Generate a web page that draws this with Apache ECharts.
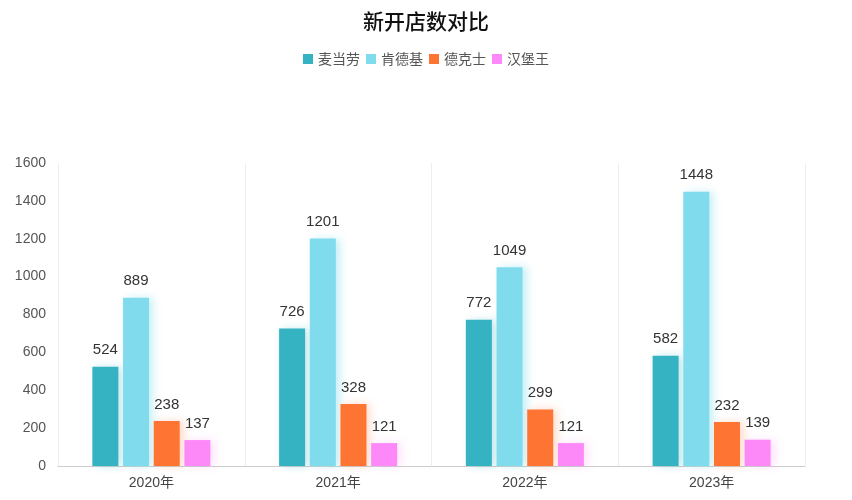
<!DOCTYPE html>
<html>
<head>
<meta charset="utf-8">
<script src="https://cdn.jsdelivr.net/npm/echarts@6/dist/echarts.min.js"></script>
<style>
  html, body { margin: 0; padding: 0; background: #fff; }
  #main { width: 852px; height: 500px; }
</style>
</head>
<body>
<div id="main"></div>
<script>
// chart data
var years = ['2020年', '2021年', '2022年', '2023年'];
var brands = ['麦当劳', '肯德基', '德克士', '汉堡王'];
var mcdonalds = [524, 726, 772, 582];
var kfc = [889, 1201, 1049, 1448];
var dicos = [238, 328, 299, 232];
var burgerKing = [137, 121, 121, 139];
var yTicks = [0, 200, 400, 600, 800, 1000, 1200, 1400, 1600];

var colors = ['#36b3c3', '#80dcec', '#fe7433', '#fd89f8'];
var shadows = ['rgba(54,179,195,0.3)', 'rgba(128,220,236,0.45)', 'rgba(254,116,51,0.25)', 'rgba(253,137,248,0.25)'];
var seriesData = [mcdonalds, kfc, dicos, burgerKing];
var font = "'Liberation Sans', 'Noto Sans CJK SC', sans-serif";

var chart = echarts.init(document.getElementById('main'));

var option = {
    color: colors,
    textStyle: { fontFamily: font },
    title: {
        text: '新开店数对比',
        left: 'center',
        top: 6,
        textStyle: { fontSize: 21, fontWeight: 500, color: '#111', fontFamily: "'Noto Sans CJK SC', sans-serif" }
    },
    legend: {
        data: brands,
        top: 47,
        itemWidth: 10,
        itemHeight: 10,
        itemGap: 6,
        icon: 'rect',
        textStyle: { fontSize: 14, color: '#555', fontFamily: "'Noto Sans CJK SC', sans-serif" }
    },
    grid: { left: 58, right: 47, top: 163, bottom: 34 },
    xAxis: {
        type: 'category',
        data: years,
        axisLine: { lineStyle: { color: '#ccc' } },
        axisTick: { show: false },
        axisLabel: { fontSize: 14, color: '#444', margin: 10, fontFamily: font },
        splitLine: { show: true, lineStyle: { color: '#eee' } }
    },
    yAxis: {
        type: 'value',
        min: yTicks[0],
        max: yTicks[yTicks.length - 1],
        interval: 200,
        axisLine: { show: false },
        axisTick: { show: false },
        axisLabel: {
            fontSize: 14,
            color: '#555',
            margin: 12,
            fontFamily: font,
            formatter: function (v) { return String(v); }
        },
        splitLine: { show: false }
    },
    series: brands.map(function (name, i) {
        return {
            name: name,
            type: 'bar',
            data: seriesData[i],
            barWidth: 26,
            barGap: '18%',
            itemStyle: {
                color: colors[i],
                shadowColor: shadows[i],
                shadowBlur: 8,
                shadowOffsetX: 4
            },
            label: {
                show: true,
                position: 'top',
                distance: 9,
                fontSize: 15,
                color: '#333',
                fontFamily: font
            }
        };
    })
};

chart.setOption(option);
</script>
</body>
</html>
